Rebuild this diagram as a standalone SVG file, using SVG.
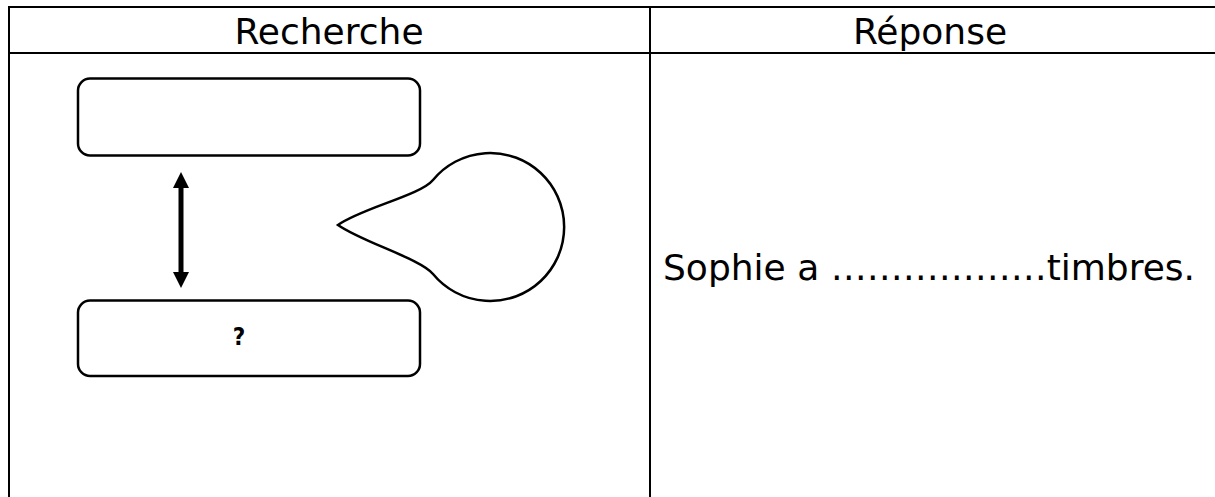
<svg xmlns="http://www.w3.org/2000/svg" width="1215" height="497" viewBox="0 0 1215 497">
<style>
.grid{stroke:#000;stroke-width:2;fill:none}
.box{fill:#fff;stroke:#000;stroke-width:2.5}
.hdr{font-family:"DejaVu Sans",Verdana,sans-serif;font-size:36px;fill:#000;text-anchor:middle}
.ans{font-family:"DejaVu Sans",Verdana,sans-serif;font-size:36px;fill:#000}
.q{font-family:"DejaVu Sans Condensed","DejaVu Sans",sans-serif;font-weight:bold;font-size:24px;fill:#000;text-anchor:middle}
</style>
<rect width="1215" height="497" fill="#fff"/>
<g id="table">
<line class="grid" x1="8" y1="7" x2="1215" y2="7"/>
<line class="grid" x1="8" y1="53" x2="1215" y2="53"/>
<line class="grid" x1="9" y1="6" x2="9" y2="497"/>
<line class="grid" x1="650" y1="6" x2="650" y2="497"/>
<text class="hdr" x="329" y="44">Recherche</text>
<text class="hdr" x="930" y="44">Réponse</text>
</g>
<g id="box-top">
<rect class="box" x="78" y="78.5" width="342" height="77" rx="12"/>
</g>
<g id="box-bottom">
<rect class="box" x="78" y="300.5" width="342" height="75.5" rx="12"/>
<text class="q" x="239" y="345">?</text>
</g>
<g id="bubble">
<path class="box" d="M338,225 C362,208 420.3,195.4 433,180 A74,74 0 1 1 433,274 C420.3,258.6 362,242 338,225 Z"/>
</g>
<g id="connectors">
<line x1="181" y1="186" x2="181" y2="274" stroke="#000" stroke-width="5"/>
<polygon points="181,172 173,188 189,188" fill="#000"/>
<polygon points="181,288 173,272 189,272" fill="#000"/>
</g>
<g id="answer">
<text class="ans" x="663" y="280">Sophie a ………………timbres.</text>
</g>
</svg>
